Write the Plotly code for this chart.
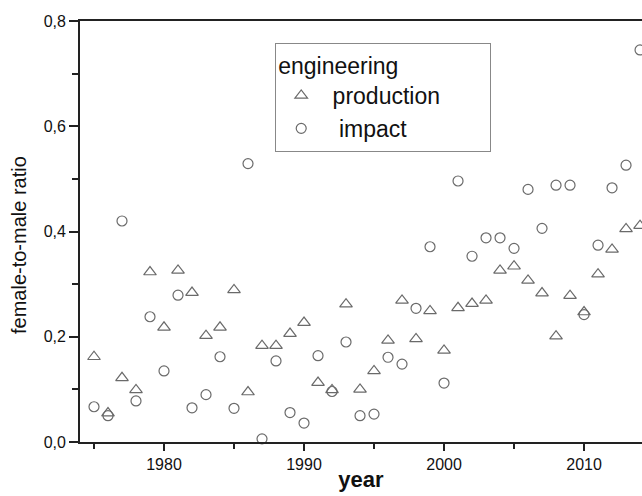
import plotly.graph_objects as go

years = list(range(1975, 2015))

production = [0.162, 0.055, 0.122, 0.099, 0.323, 0.218, 0.326, 0.284, 0.202, 0.218,
              0.289, 0.095, 0.183, 0.183, 0.206, 0.227, 0.113, 0.099, 0.262, 0.100,
              0.135, 0.193, 0.269, 0.196, 0.249, 0.174, 0.255, 0.263, 0.269, 0.326,
              0.334, 0.307, 0.283, 0.201, 0.278, 0.247, 0.319, 0.366, 0.405, 0.411]

impact = [0.067, 0.050, 0.420, 0.078, 0.238, 0.135, 0.279, 0.065, 0.090, 0.162,
          0.064, 0.529, 0.006, 0.154, 0.056, 0.036, 0.164, 0.096, 0.190, 0.050,
          0.053, 0.161, 0.148, 0.254, 0.371, 0.112, 0.496, 0.353, 0.388, 0.388,
          0.368, 0.480, 0.406, 0.488, 0.488, 0.242, 0.374, 0.483, 0.526, 0.745]

x_ticks = [1980, 1990, 2000, 2010]
y_ticks = [0.0, 0.2, 0.4, 0.6, 0.8]

FONT = "Liberation Sans, Arial, sans-serif"
gray = "#6a6a6a"
pad = "&nbsp;" * 7
fig = go.Figure()
fig.add_trace(go.Scatter(
    x=years, y=production, mode="markers", name=" production" + pad,
    marker=dict(symbol="triangle-up-open", size=11, color=gray, line=dict(width=1.2, color=gray)),
    cliponaxis=False))
fig.add_trace(go.Scatter(
    x=years, y=impact, mode="markers", name="  impact",
    marker=dict(symbol="circle-open", size=10, color=gray, line=dict(width=1.2, color=gray)),
    cliponaxis=False))

axis_font = dict(family=FONT, size=16, color="#111")
fig.update_layout(
    width=642, height=496,
    margin=dict(l=80, r=0, t=21, b=54),
    paper_bgcolor="white", plot_bgcolor="white",
    separators=",.",
    showlegend=True,
    legend=dict(
        x=0.347, y=0.948, xanchor="left", yanchor="top",
        bordercolor="#888", borderwidth=1.2, bgcolor="white",
        font=dict(family=FONT, size=23, color="#111"),
        title=dict(text="engineering", font=dict(family=FONT, size=23, color="#111")),
        itemwidth=40, tracegroupgap=0,
    ),
    xaxis=dict(
        range=[1974, 2014.14], tickvals=x_ticks, ticks="outside", ticklen=7, tickwidth=1.5,
        tickcolor="#222", showline=True, linecolor="#222", linewidth=1.8, mirror=True,
        showgrid=False, zeroline=False, tickfont=axis_font,
        minor=dict(tickvals=[1975, 1985, 1995, 2005], ticks="outside", ticklen=5, tickwidth=1.5, tickcolor="#222"),
        title=dict(text="<b>year</b>", font=dict(family=FONT, size=22, color="#111"), standoff=0),
    ),
    yaxis=dict(
        range=[0, 0.8], tickvals=y_ticks, tickformat=".1f", ticks="outside", ticklen=9, tickwidth=1.5,
        tickcolor="#222", showline=True, linecolor="#222", linewidth=1.8, mirror=False,
        showgrid=False, zeroline=False, tickfont=axis_font,
        minor=dict(tickvals=[0.1, 0.3, 0.5, 0.7], ticks="outside", ticklen=6, tickwidth=1.5, tickcolor="#222"),
    ),
    annotations=[dict(
        text="female-to-male ratio", textangle=-90, showarrow=False,
        xref="paper", yref="paper", x=-61 / 562, y=1 - (245 - 21) / 421,
        xanchor="center", yanchor="middle",
        font=dict(family=FONT, size=20, color="#111"),
    )],
)

fig.write_html("out.html")
